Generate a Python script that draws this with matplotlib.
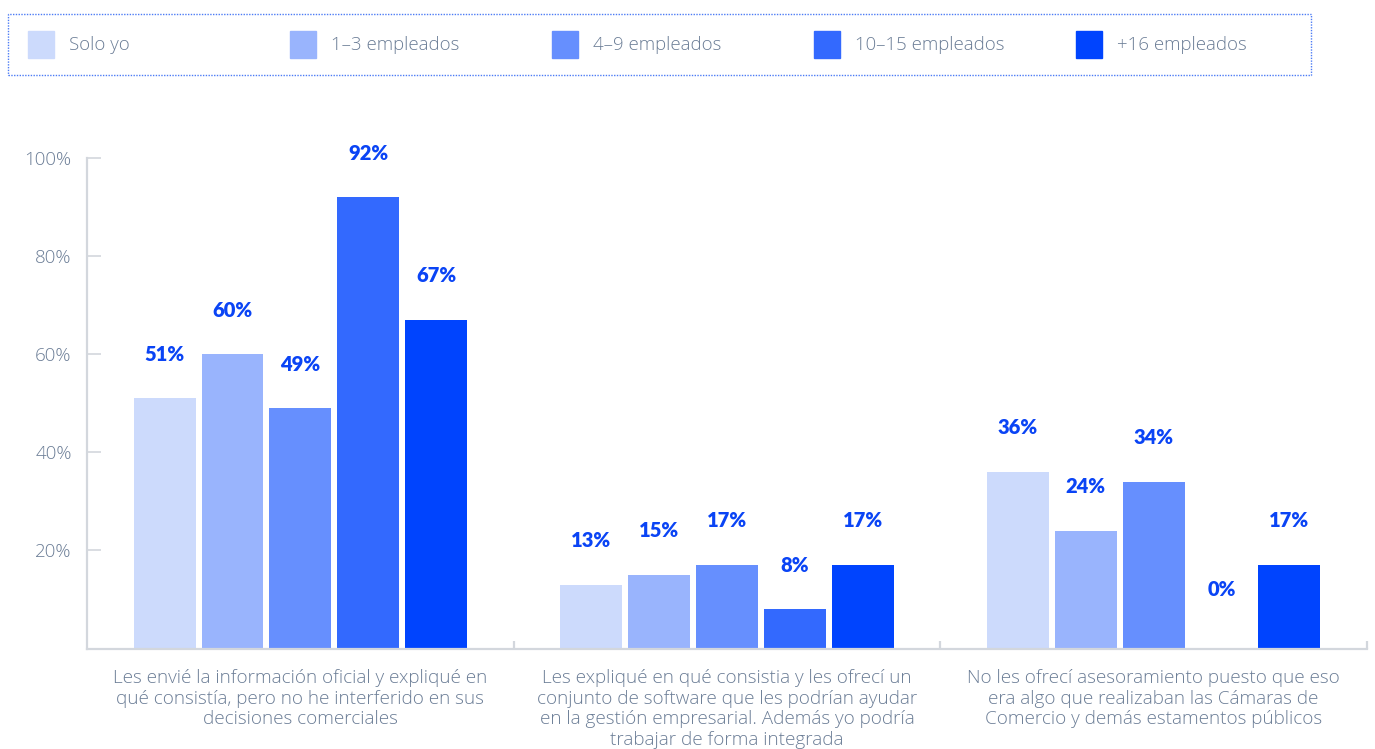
import numpy as np
import matplotlib.pyplot as plt
from matplotlib.patches import Rectangle

plt.rcParams['font.family'] = ['Open Sans', 'DejaVu Sans']

categories = [
    "Les envié la información oficial y expliqué en\nqué consistía, pero no he interferido en sus\ndecisiones comerciales",
    "Les expliqué en qué consistia y les ofrecí un\nconjunto de software que les podrían ayudar\nen la gestión empresarial. Además yo podría\ntrabajar de forma integrada",
    "No les ofrecí asesoramiento puesto que eso\nera algo que realizaban las Cámaras de\nComercio y demás estamentos públicos",
]
series = ["Solo yo", "1–3 empleados", "4–9 empleados", "10–15 empleados", "+16 empleados"]
values = {
    "Solo yo":         [51, 13, 36],
    "1–3 empleados":   [60, 15, 24],
    "4–9 empleados":   [49, 17, 34],
    "10–15 empleados": [92, 8, 0],
    "+16 empleados":   [67, 17, 17],
}
colors = ["#ccdafc", "#99b4fd", "#668ffe", "#3369fe", "#0044fe"]
yticks = [20, 40, 60, 80, 100]
ytick_labels = ["20%", "40%", "60%", "80%", "100%"]

text_gray = "#6b7d96"
axis_gray = "#d3d7dd"
label_blue = "#0a44f5"

fig = plt.figure(figsize=(13.75, 7.49), dpi=100)
ax = fig.add_axes([87 / 1375, 1 - 648.5 / 749, (1367 - 87) / 1375, (648.5 - 158) / 749])

x = np.arange(len(categories))
width = 0.145
step = 0.159
for i, name in enumerate(series):
    xs = x + (i - 2) * step
    ax.bar(xs, values[name], width=width, color=colors[i], zorder=2)
    for xi, v in zip(xs, values[name]):
        ty = v + 9 if v > 0 else 12
        ax.text(xi, ty, f"{v}%", ha="center", va="center", fontsize=14.5,
                fontweight="heavy", color=label_blue, clip_on=False,
                family=["Lato", "DejaVu Sans"])

ax.set_xlim(-0.5, 2.5)
ax.set_ylim(0, 100)

for side in ["top", "right"]:
    ax.spines[side].set_visible(False)
for side in ["left", "bottom"]:
    ax.spines[side].set_color(axis_gray)
    ax.spines[side].set_linewidth(1.6)

ax.set_yticks(yticks)
ax.set_yticklabels(ytick_labels, fontweight="light")
ax.tick_params(axis="y", direction="in", length=10, width=1.2, color=axis_gray,
               pad=11, labelsize=13.5, labelcolor=text_gray)

ax.set_xticks([0.5, 1.5, 2.5])
ax.set_xticklabels([])
ax.tick_params(axis="x", direction="in", length=6, width=1.6, color=axis_gray)

for xi, cat in zip(x, categories):
    ax.text(xi, -4.2, cat, ha="center", va="top", fontsize=13.6, color=text_gray,
            fontweight="light", linespacing=1.18, clip_on=False)

# legend box with dotted border
box = Rectangle((8 / 1375, 1 - 75 / 749), (1311 - 8) / 1375, 61 / 749,
                transform=fig.transFigure, fill=False, edgecolor="#4d7cf5",
                linestyle=(0, (1, 1)), linewidth=1.0)
fig.patches.append(box)
for i, name in enumerate(series):
    px = 28 + i * 262
    fig.patches.append(Rectangle((px / 1375, 1 - 58 / 749), 26 / 1375, 27 / 749,
                                 transform=fig.transFigure, color=colors[i]))
    fig.text((px + 41) / 1375, 1 - 45 / 749, name, ha="left", va="center",
             fontsize=13.4, fontweight="light", color=text_gray)

fig.savefig("out.png", dpi=100)
